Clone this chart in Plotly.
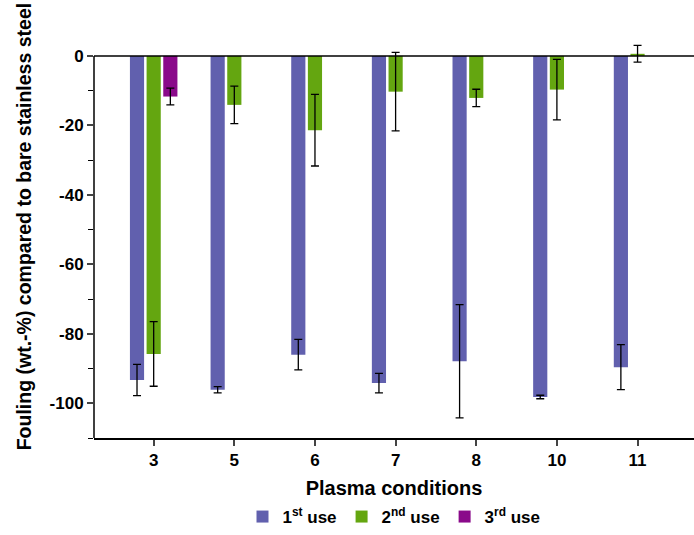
import plotly.graph_objects as go

# ─────────────────────────────────────────
# DATOS
# ─────────────────────────────────────────
condiciones = ["3", "5", "6", "7", "8", "10", "11"]

uso_1 = [-93.3, -96.1, -86.0, -94.2, -87.9, -98.2, -89.6]
err_1 = [4.5, 0.9, 4.4, 2.8, 16.3, 0.5, 6.5]

uso_2 = [-85.8, -14.1, -21.4, -10.3, -12.1, -9.7, 0.6]
err_2 = [9.3, 5.4, 10.3, 11.3, 2.5, 8.7, 2.4]

uso_3 = [-11.7, None, None, None, None, None, None]
err_3 = [2.4, None, None, None, None, None, None]

ticks_y = [0, -20, -40, -60, -80, -100]

COLORES = {
    "uso1": "#6160AE",
    "uso2": "#64A610",
    "uso3": "#8A0A8A",
}

FUENTE = "Arial, Liberation Sans, sans-serif"

x = list(range(len(condiciones)))

fig = go.Figure()

series = [
    ("<b>1<sup>st</sup> use</b>", uso_1, err_1, COLORES["uso1"]),
    ("<b>2<sup>nd</sup> use</b>", uso_2, err_2, COLORES["uso2"]),
    ("<b>3<sup>rd</sup> use</b>", uso_3, err_3, COLORES["uso3"]),
]

for nombre, valores, errores, color in series:
    fig.add_trace(go.Bar(
        name=nombre,
        x=x,
        y=valores,
        marker=dict(color=color, line=dict(width=0)),
        error_y=dict(type="data", array=errores, color="black", thickness=1.3, width=4),
        cliponaxis=False,
    ))

# línea del cero y eje izquierdo (el eje arranca en 0)
fig.add_shape(type="line", xref="paper", x0=0, x1=1, yref="y", y0=0, y1=0,
              line=dict(color="black", width=1.5))
fig.add_shape(type="line", xref="paper", x0=0, x1=0, yref="y", y0=-110, y1=0,
              line=dict(color="black", width=1.5))

# título del eje Y como anotación (va algo más arriba que el centro)
fig.add_annotation(
    text="<b>Fouling (wt.-%) compared to bare stainless steel</b>",
    xref="paper", yref="paper", x=-0.117, y=0.534,
    xanchor="center", yanchor="middle", textangle=-90,
    showarrow=False, font=dict(size=19.5, color="black"),
)

fig.update_layout(
    barmode="group",
    bargap=0.38,
    bargroupgap=0.15,
    width=694,
    height=535,
    margin=dict(l=94, r=0, t=42, b=96),
    plot_bgcolor="white",
    paper_bgcolor="white",
    font=dict(family=FUENTE, color="black"),
    xaxis=dict(
        range=[-0.74, 6.7],
        tickvals=x,
        ticktext=[f"<b>{c}</b>" for c in condiciones],
        tickfont=dict(size=17),
        ticks="outside",
        ticklen=6,
        tickwidth=1.5,
        showline=True,
        linecolor="black",
        linewidth=1.5,
        showgrid=False,
        zeroline=False,
        title=dict(text="<b>Plasma conditions</b>", font=dict(size=20), standoff=12),
    ),
    yaxis=dict(
        range=[-110, 4],
        tickvals=ticks_y,
        ticktext=[f"<b>{v}</b>" for v in ticks_y],
        tickfont=dict(size=17),
        ticks="outside",
        ticklen=6,
        tickwidth=1.5,
        minor=dict(dtick=10, ticks="outside", ticklen=5, tickwidth=1.2, tickcolor="black"),
        showline=False,
        showgrid=False,
        zeroline=False,
    ),
    legend=dict(
        orientation="h",
        x=0.5,
        xanchor="center",
        y=-0.2,
        yanchor="middle",
        font=dict(size=17),
        itemwidth=30,
    ),
)

fig.write_html(
    "out.html",
    config={"displayModeBar": False},
    post_script="document.body.style.margin='0';",
)
